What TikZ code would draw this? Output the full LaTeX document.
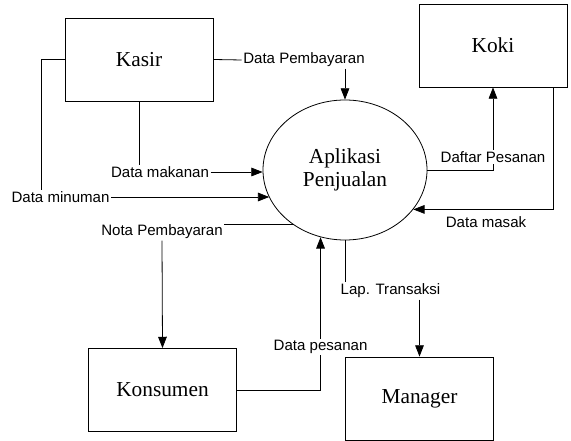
\documentclass[tikz,border=0pt]{standalone}
\usepackage{fontspec}
\setmainfont{Liberation Serif}
\newfontfamily\arialfont{Liberation Sans}
\usetikzlibrary{shapes.geometric,arrows.meta}
\tikzset{
  entitas/.style={draw, line width=0.6pt, minimum width=111pt, minimum height=62.25pt, font=\fontsize{16}{19}\selectfont},
  proses/.style={draw, ellipse, line width=0.6pt, minimum width=123pt, minimum height=105pt, inner sep=0pt, align=center, font=\fontsize{16}{17.5}\selectfont},
  ket/.style={fill=white, inner sep=1pt, font=\arialfont\fontsize{11.3}{13}\selectfont},
  garis/.style={line width=0.6pt},
  alir/.style={line width=0.6pt, -{Triangle[length=8.5pt,width=6.5pt]}}
}
\begin{document}
\begin{tikzpicture}[x=0.75pt,y=0.75pt,yscale=-1,xscale=1]
\useasboundingbox (0,0) rectangle (571,441);
% Entitas luar
\node[entitas] (kasir) at (139,59.5) {Kasir};
\node[entitas] (koki) at (493,45.5) {Koki};
\node[entitas] (konsumen) at (162.5,390) {Konsumen};
\node[entitas] (manager) at (419.5,398.5) {Manager};
% Proses
\node[proses] (app) at (345,170) {Aplikasi\\Penjualan};

% Keterangan arus data
\node[ket] (lblbayar) at (304,60) {Data Pembayaran};
\node[ket] (lblmakan) at (160,172) {Data makanan};
\node[ket] (lblminum) at (60.5,197) {Data minuman};
\node[ket] (lbldaftar) at (493,157) {Daftar Pesanan};
\node[ket] (lblmasak) at (486,222) {Data masak};
\node[ket] (lblnota) at (162,232) {Nota Pembayaran};
\node[ket] (lblpesan) at (app.250 |- 0,347) {Data pesanan};
\node[ket] (lbllap) at (390.5,291) {Lap. Transaksi};

% Arus data dari Kasir
\draw[garis] (kasir.east) -- (lblbayar.west);
\draw[alir] (lblbayar.south -| app.north) -- (app.north);
\draw[garis] (kasir.south) -- (kasir.south |- lblmakan.north);
\draw[alir] (lblmakan.east) -- (lblmakan.east -| app.west);
\draw[garis] (kasir.west) -| ([xshift=-14.6pt]lblminum.north);
\draw[alir] (lblminum.east) -- (lblminum.east -| app.200);
% Arus data Koki
\draw[garis] (app.east) -| (lbldaftar.south);
\draw[alir] (lbldaftar.north) -- (koki.south);
\draw[alir] ([xshift=-10.5pt]koki.south east) |- (app.330);
% Arus data Konsumen
\draw[garis] (app.226) -- (app.226 -| lblnota.east);
\draw[alir] (lblnota.south) -- (konsumen.north);
\draw[garis] (konsumen.east) -| (lblpesan.south);
\draw[alir] (lblpesan.north) -- (app.250);
% Arus data Manager
\draw[garis] (app.south) -- (app.south |- lbllap.north);
\draw[alir] (lbllap.south -| manager.north) -- (manager.north);
\end{tikzpicture}
\end{document}
